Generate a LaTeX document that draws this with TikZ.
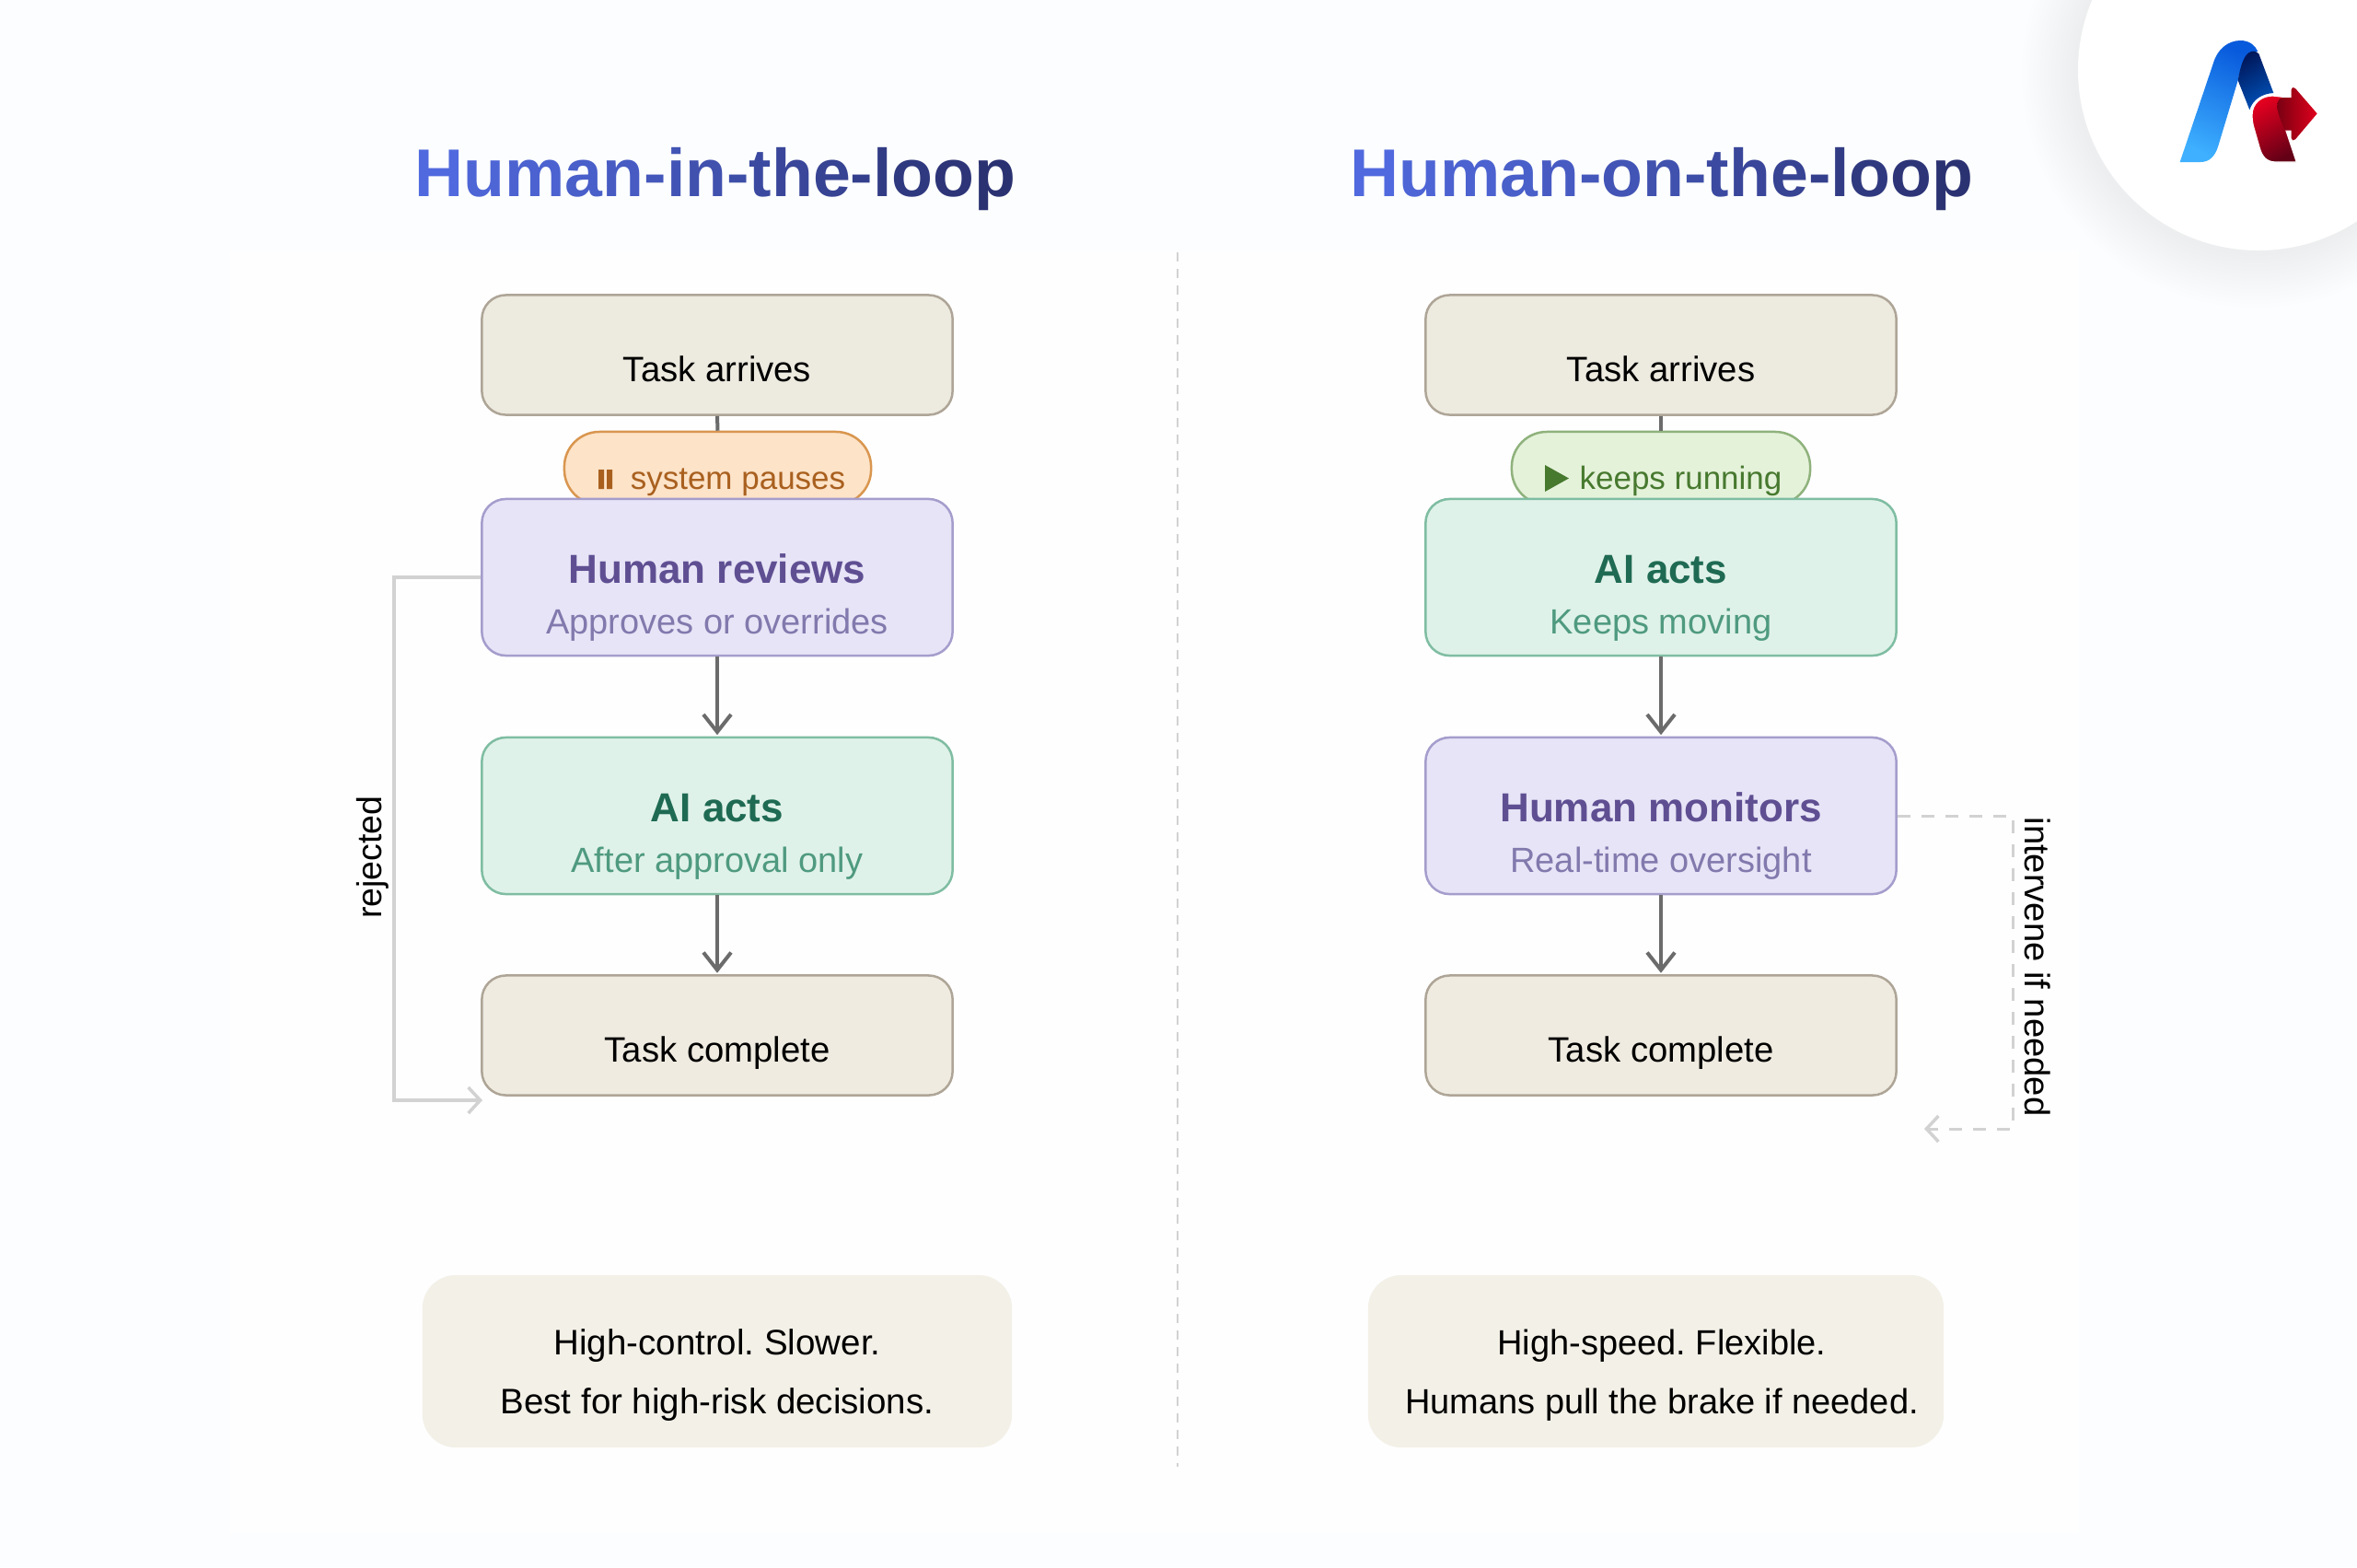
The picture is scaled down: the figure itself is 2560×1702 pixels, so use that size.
\documentclass[tikz,border=0pt]{standalone}
\usepackage{fontspec}
\setmainfont{Liberation Sans}
\usetikzlibrary{arrows.meta}
\newlength\pxu \setlength\pxu{.01cm}
\newcommand\atbase[2]{\makebox[0pt]{\raisebox{-#1\pxu}[0pt][0pt]{#2}}}
\newcommand\fsz[1]{\fontsize{#1\pxu}{#1\pxu}\selectfont}
\makeatletter
\newcommand\gradtitle[2]{\@tempcnta=0 \@tfor\gt@c:=#2\do{\pgfmathtruncatemacro\gtp{100-100*\@tempcnta/#1}\textcolor{titleA!\gtp!titleB}{\gt@c}\advance\@tempcnta 1 }}
\makeatother
\definecolor{titleA}{HTML}{5069DE}
\definecolor{titleB}{HTML}{2B3272}
\definecolor{bgcol}{HTML}{FCFDFE}
\definecolor{panelcol}{HTML}{FEFEFF}
\definecolor{taskfill}{HTML}{EDEADF}
\definecolor{donefill}{HTML}{EFEBE0}
\definecolor{taskline}{HTML}{AEA597}
\definecolor{purfill}{HTML}{E7E4F7}
\definecolor{purline}{HTML}{A59DCC}
\definecolor{purhead}{HTML}{5F4F92}
\definecolor{pursub}{HTML}{8279AD}
\definecolor{grnfill}{HTML}{DFF2E9}
\definecolor{grnline}{HTML}{7FBDA2}
\definecolor{grnhead}{HTML}{1F6A53}
\definecolor{grnsub}{HTML}{4F9A80}
\definecolor{orpfill}{HTML}{FDE3C8}
\definecolor{orpline}{HTML}{D9964F}
\definecolor{orptext}{HTML}{A9601F}
\definecolor{grpfill}{HTML}{E5F2DA}
\definecolor{grpline}{HTML}{8FB27C}
\definecolor{grptext}{HTML}{47792F}
\definecolor{sumfill}{HTML}{F3F0E7}
\definecolor{conn}{HTML}{6B6B6B}
\definecolor{soft}{HTML}{D2D2D2}
\tikzset{
  flowbox/.style={rectangle,rounded corners=.26cm,minimum width=5.11cm,inner sep=0pt,line width=.025cm},
  taskbox/.style={flowbox,fill=taskfill,draw=taskline,minimum height=1.3cm,text=black},
  donebox/.style={taskbox,fill=donefill},
  purbox/.style={flowbox,fill=purfill,draw=purline,minimum height=1.7cm},
  grnbox/.style={flowbox,fill=grnfill,draw=grnline,minimum height=1.7cm},
  pillbox/.style={rectangle,rounded corners=.38cm,inner sep=0pt,minimum height=.79cm,line width=.025cm},
  sumbox/.style={rectangle,rounded corners=.36cm,inner sep=0pt,minimum height=1.87cm,fill=sumfill,text=black},
  titlenode/.style={anchor=base,inner sep=0pt},
  flowarrow/.style={draw=conn,line width=.04cm,-{Straight Barb[length=.19cm,width=.3cm,line width=.04cm]},shorten >=.015cm},
  softarrow/.style={draw=soft,line width=.04cm,-{Straight Barb[length=.13cm,width=.28cm,line width=.035cm]}},
  softdash/.style={draw=soft,line width=.03cm,dash pattern=on .14cm off .12cm,-{Straight Barb[length=.13cm,width=.28cm,line width=.035cm]}},
  sidelabel/.style={inner sep=0pt,text=black}
}
\begin{document}
\frenchspacing
\begin{tikzpicture}[x=.01cm,y=-.01cm]
\useasboundingbox (0,0) rectangle (2560,1702);
\fill[bgcol] (0,0) rectangle (2560,1702);
\fill[panelcol] (250,272) rectangle (2258,1665);
% badge
\begin{scope}
\clip (0,0) rectangle (2560,1702);
\foreach \r in {2,6,...,58}{\fill[black,opacity=.0055] (2450,80) circle[radius=196+\r];}
\fill[white] (2453,76) circle[radius=196];
\end{scope}
% logo
\begin{scope}[shift={(2200,0)},x=.01cm/3,y=-.01cm/3]
\shade[top color={rgb,255:red,8;green,90;blue,220},bottom color={rgb,255:red,62;green,176;blue,255},shading angle=-25]
 (503,528) -- (612,205) .. controls (625,160) and (660,132) .. (700,132) .. controls (730,132) and (748,148) .. (757,168) .. controls (725,165) and (705,200) .. (692,262) -- (628,475) .. controls (618,508) and (600,528) .. (570,528) -- cycle;
\shade[top color={rgb,255:red,0;green,24;blue,92},bottom color={rgb,255:red,0;green,82;blue,185},shading angle=30]
 (735,168) .. controls (745,165) and (755,168) .. (760,175) -- (808,303) .. controls (770,305) and (740,325) .. (730,358) -- (692,262) .. controls (700,215) and (712,175) .. (735,168) -- cycle;
\draw[white,line width=.012cm,top color={rgb,255:red,226;green,0;blue,31},bottom color={rgb,255:red,100;green,0;blue,22},shading angle=30]
 (738,375) .. controls (738,335) and (770,312) .. (805,312) -- (840,316) -- (822,345) -- (883,528) -- (815,528) .. controls (785,528) and (770,510) .. (762,480) -- (742,410) .. controls (739,398) and (738,385) .. (738,375) -- cycle;
\shade[left color={rgb,255:red,122;green,0;blue,18},right color={rgb,255:red,224;green,0;blue,28}]
 (820,345) .. controls (820,330) and (826,320) .. (838,318) -- (866,318) -- (866,292) .. controls (866,284) and (874,282) .. (879,288) -- (950,370) -- (879,454) .. controls (874,460) and (866,458) .. (866,450) -- (866,425) -- (845,425) .. controls (835,400) and (820,370) .. (820,345) -- cycle;
\end{scope}
% titles
\node[titlenode] (titleL) at (777,213) {\fsz{73.4}\bfseries\gradtitle{16}{Human-in-the-loop}};
\node[titlenode] (titleR) at (1805,213) {\fsz{73.4}\bfseries\gradtitle{16}{Human-on-the-loop}};
% divider
\coordinate (divT) at (1279,274);
\coordinate (divB) at (1279,1593);
\draw[draw=soft,line width=.02cm,dash pattern=on .1cm off .08cm] (divT) -- (divB);
% left column
\node[taskbox] (la) at (779,385.5) {\atbase{28.5}{\fsz{38.3}Task arrives}};
\node[pillbox,fill=orpfill,draw=orpline,minimum width=3.33cm] (lp) at (779.5,508.5) {\atbase{22.5}{\fsz{35}\color{orptext}\hspace{.44cm}system pauses}};
\node[purbox] (lb) at (779,627) {\atbase{6.5}{\fsz{44}\bfseries\color{purhead}Human reviews}\atbase{61}{\fsz{38}\color{pursub}Approves or overrides}};
\node[grnbox] (lc) at (779,886) {\atbase{6.5}{\fsz{44}\bfseries\color{grnhead}AI acts}\atbase{61}{\fsz{38}\color{grnsub}After approval only}};
\node[donebox] (ld) at (779,1124.5) {\atbase{28.5}{\fsz{38.3}Task complete}};
\node[sumbox,minimum width=6.4cm] (ls) at (779,1478.5) {\atbase{-7.5}{\fsz{38.5}High-control. Slower.}\atbase{56.5}{\fsz{38.5}Best for high-risk decisions.}};
\fill[orptext] (650,510) rectangle (656,531) (659,510) rectangle (665,531);
\draw[conn,line width=.04cm] (la.south) -- (lp.north);
\draw[flowarrow] (lb.south) -- (lc.north);
\draw[flowarrow] (lc.south) -- (ld.north);
\coordinate (lend) at (524,1195);
\draw[softarrow] (lb.west) -- (428,627) -- (428,1195) -- (lend);
\node[sidelabel,rotate=90] (lrej) at (405,931) {\fsz{37.5}rejected};
% right column
\node[taskbox] (ra) at (1804,385.5) {\atbase{28.5}{\fsz{38.3}Task arrives}};
\node[pillbox,fill=grpfill,draw=grpline,minimum width=3.24cm] (rp) at (1804,508.5) {\atbase{22.5}{\fsz{35}\color{grptext}\hspace{.43cm}keeps running}};
\node[grnbox] (rb) at (1804,627) {\atbase{6.5}{\fsz{44}\bfseries\color{grnhead}AI acts}\atbase{61}{\fsz{38}\color{grnsub}Keeps moving}};
\node[purbox] (rc) at (1804,886) {\atbase{6.5}{\fsz{44}\bfseries\color{purhead}Human monitors}\atbase{61}{\fsz{38}\color{pursub}Real-time oversight}};
\node[donebox] (rd) at (1804,1124.5) {\atbase{28.5}{\fsz{38.3}Task complete}};
\node[sumbox,minimum width=6.25cm] (rs) at (1798.5,1478.5) {\atbase{-7.5}{\fsz{38}\hspace{.13cm}High-speed. Flexible.}\atbase{56.5}{\fsz{38}\hspace{.13cm}Humans pull the brake if needed.}};
\fill[grptext] (1678,505) -- (1704,519.5) -- (1678,534) -- cycle;
\draw[conn,line width=.04cm] (ra.south) -- (rp.north);
\draw[flowarrow] (rb.south) -- (rc.north);
\draw[flowarrow] (rc.south) -- (rd.north);
\coordinate (rend) at (2090,1226);
\draw[softdash] (rc.east) -- (2186,886) -- (2186,1226) -- (rend);
\node[sidelabel,rotate=-90] (rint) at (2213,1050) {\fsz{38.2}intervene if needed};
\end{tikzpicture}
\end{document}
